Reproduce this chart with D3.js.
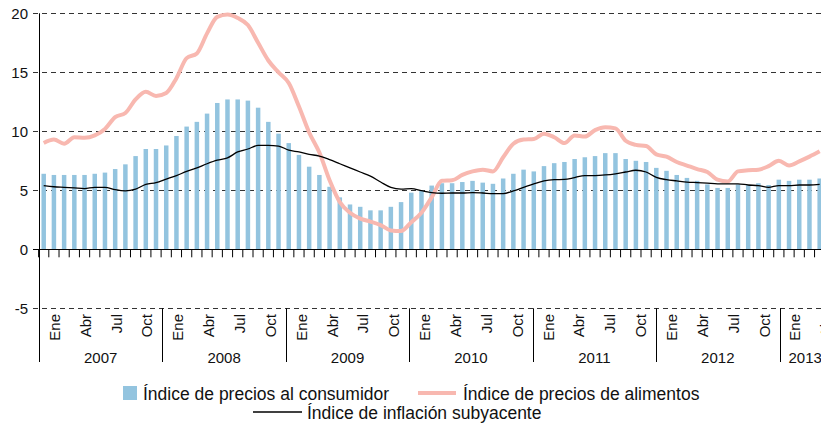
<!DOCTYPE html>
<html>
<head>
<meta charset="utf-8">
<script src="https://cdn.jsdelivr.net/npm/d3@7"></script>
<style>
  body { margin: 0; background: #fff; }
  svg { display: block; font-family: "Liberation Sans", Arial, sans-serif; }
</style>
</head>
<body>
<div id="chart"></div>
<script>
// meses ene-2007 .. may-2013
const years = ["2007", "2008", "2009", "2010", "2011", "2012", "2013"]
const monthNames = ["Ene", "Abr", "Jul", "Oct"]
const yTicks = [-5, 0, 5, 10, 15, 20]

const ipc = [
  6.4, 6.3, 6.3, 6.3, 6.3, 6.4, 6.5, 6.8, 7.2, 7.9, 8.5, 8.5,
  8.8, 9.6, 10.4, 10.8, 11.5, 12.4, 12.7, 12.7, 12.6, 12.0, 10.8, 9.8,
  9.0, 8.0, 7.0, 6.3, 5.3, 4.4, 3.8, 3.6, 3.3, 3.3, 3.6, 4.0,
  4.8, 5.0, 5.4, 5.6, 5.6, 5.7, 5.8, 5.65, 5.55, 6.0, 6.4, 6.75,
  6.6, 7.05, 7.3, 7.4, 7.65, 7.8, 7.9, 8.15, 8.15, 7.65, 7.5, 7.4,
  6.9, 6.65, 6.3, 6.05, 5.8, 5.5, 5.2, 5.2, 5.5, 5.45, 5.6, 5.45,
  5.9, 5.8, 5.9, 5.9, 6.0
]
const alimentos = [
  9.0, 9.3, 8.95, 9.5, 9.45, 9.65, 10.2, 11.2, 11.55, 12.7, 13.35, 13.0,
  13.25, 14.5, 16.2, 16.6, 18.3, 19.7, 19.9, 19.6, 19.0, 17.5, 16.0, 15.0,
  14.1, 12.1, 9.9, 8.2, 5.85, 4.0, 3.1, 2.6, 2.35, 2.05, 1.6, 1.55,
  2.3, 3.1, 4.4, 5.8, 5.85, 6.3, 6.6, 6.75, 6.6, 7.8, 8.95, 9.3,
  9.35, 9.8, 9.5, 9.0, 9.65, 9.55, 10.1, 10.35, 10.25, 9.2, 8.85, 8.75,
  8.05, 7.85, 7.4, 7.1, 6.8, 6.55, 5.9, 5.75, 6.6, 6.7, 6.75, 7.05,
  7.5, 7.1, 7.45, 7.85, 8.3
]
const subyacente = [
  5.4, 5.3, 5.25, 5.2, 5.15, 5.25, 5.25, 5.05, 4.95, 5.1, 5.5, 5.65,
  5.95, 6.25, 6.6, 6.9, 7.25, 7.55, 7.75, 8.25, 8.5, 8.8, 8.8, 8.75,
  8.4, 8.25, 8.05, 7.9, 7.6, 7.25, 6.9, 6.55, 6.2, 5.7, 5.25, 5.1,
  5.15, 4.97, 4.8, 4.75, 4.77, 4.77, 4.8, 4.77, 4.72, 4.72, 4.95, 5.25,
  5.55, 5.8, 5.9, 5.92, 6.08, 6.25, 6.25, 6.3, 6.4, 6.55, 6.7, 6.55,
  6.1, 5.9, 5.8, 5.7, 5.65, 5.6, 5.55, 5.55, 5.55, 5.45, 5.4, 5.25,
  5.4, 5.4, 5.45, 5.45, 5.5
]

const legendItems = [
  "Índice de precios al consumidor",
  "Índice de precios de alimentos",
  "Índice de inflación subyacente"
]

const width = 821, height = 427
const n = ipc.length
const step = 10.21
const left = 39

const svg = d3.select("#chart").append("svg")
  .attr("width", width)
  .attr("height", height)

const x = d3.scaleBand()
  .domain(d3.range(n))
  .range([left - 0.4, left - 0.4 + n * step])
  .paddingInner(0.56)
  .paddingOuter(0.28)

// eje de fechas (separadores de años y etiquetas de meses)
const xDate = d3.scaleLinear().domain([0, n]).range([left, left + n * 10.285])

const y = d3.scaleLinear().domain([-5, 20]).range([308.3, 13.3])

const cx = i => x(i) + x.bandwidth() / 2

// grilla
svg.append("g")
  .selectAll("line")
  .data(yTicks.filter(d => d != 0))
  .join("line")
  .attr("x1", left - 6).attr("x2", width)
  .attr("y1", d => Math.round(y(d)) + 0.5).attr("y2", d => Math.round(y(d)) + 0.5)
  .attr("stroke", "#333")
  .attr("stroke-dasharray", "5,4")

// eje y
const yAxis = svg.append("g")
yAxis.selectAll("text")
  .data(yTicks)
  .join("text")
  .attr("x", 28)
  .attr("y", d => y(d))
  .attr("dy", "0.35em")
  .attr("text-anchor", "end")
  .attr("font-size", 15)
  .attr("fill", "#111")
  .text(d => d)

// barras IPC
svg.append("g")
  .selectAll("rect")
  .data(ipc)
  .join("rect")
  .attr("x", (d, i) => x(i))
  .attr("width", x.bandwidth())
  .attr("y", d => y(d))
  .attr("height", d => y(0) - y(d))
  .attr("fill", "#93c4df")

// linea cero y marcas de meses
svg.append("line")
  .attr("x1", left - 6).attr("x2", width)
  .attr("y1", Math.round(y(0)) + 0.5).attr("y2", Math.round(y(0)) + 0.5)
  .attr("stroke", "#000")

svg.append("g")
  .selectAll("line")
  .data(d3.range(n + 1))
  .join("line")
  .attr("x1", i => left - 0.4 + i * step).attr("x2", i => left - 0.4 + i * step)
  .attr("y1", y(0)).attr("y2", y(0) + 8)
  .attr("stroke", "#000")

svg.append("line")
  .attr("x1", left + 0.5).attr("x2", left + 0.5)
  .attr("y1", y(20)).attr("y2", 362)
  .attr("stroke", "#000")

// lineas
const line = data => d3.line()
  .x((d, i) => cx(i))
  .y(d => y(d))
  .curve(d3.curveMonotoneX)(data)

svg.append("path")
  .attr("d", line(alimentos))
  .attr("fill", "none")
  .attr("stroke", "#f8b8b0")
  .attr("stroke-width", 4)
  .attr("stroke-linejoin", "round")

svg.append("path")
  .attr("d", line(subyacente))
  .attr("fill", "none")
  .attr("stroke", "#000")
  .attr("stroke-width", 1.3)

// etiquetas de meses
const monthIdx = d3.range(n).filter(i => i % 3 == 0)
svg.append("g")
  .selectAll("text")
  .data(monthIdx)
  .join("text")
  .attr("transform", i => "translate(" + (xDate(i + 1.5) + 5.5) + ",314) rotate(-90)")
  .attr("text-anchor", "end")
  .attr("font-size", 15)
  .attr("fill", "#111")
  .text(i => monthNames[(i % 12) / 3])

// separadores de años y etiquetas
svg.append("g")
  .selectAll("line")
  .data(years.slice(1))
  .join("line")
  .attr("x1", (d, k) => Math.round(xDate((k + 1) * 12)) + 0.5)
  .attr("x2", (d, k) => Math.round(xDate((k + 1) * 12)) + 0.5)
  .attr("y1", y(-5)).attr("y2", 362)
  .attr("stroke", "#000")

svg.append("g")
  .selectAll("text")
  .data(years)
  .join("text")
  .attr("x", (d, k) => (xDate(k * 12) + xDate(Math.min(k * 12 + 12, n))) / 2)
  .attr("y", 363)
  .attr("text-anchor", "middle")
  .attr("font-size", 15)
  .attr("fill", "#111")
  .text(d => d)

// leyenda
const lg = svg.append("g").attr("font-size", 17.5).attr("fill", "#111")
lg.append("rect").attr("x", 123).attr("y", 386).attr("width", 14).attr("height", 14).attr("fill", "#93c4df")
lg.append("text").attr("x", 143).attr("y", 400).text(legendItems[0])
lg.append("line").attr("x1", 418).attr("x2", 456).attr("y1", 393).attr("y2", 393)
  .attr("stroke", "#f8b8b0").attr("stroke-width", 4)
lg.append("text").attr("x", 463).attr("y", 400).text(legendItems[1])
lg.append("line").attr("x1", 253).attr("x2", 302).attr("y1", 412).attr("y2", 412)
  .attr("stroke", "#000").attr("stroke-width", 1.3)
lg.append("text").attr("x", 307).attr("y", 419).text(legendItems[2])
</script>
</body>
</html>
